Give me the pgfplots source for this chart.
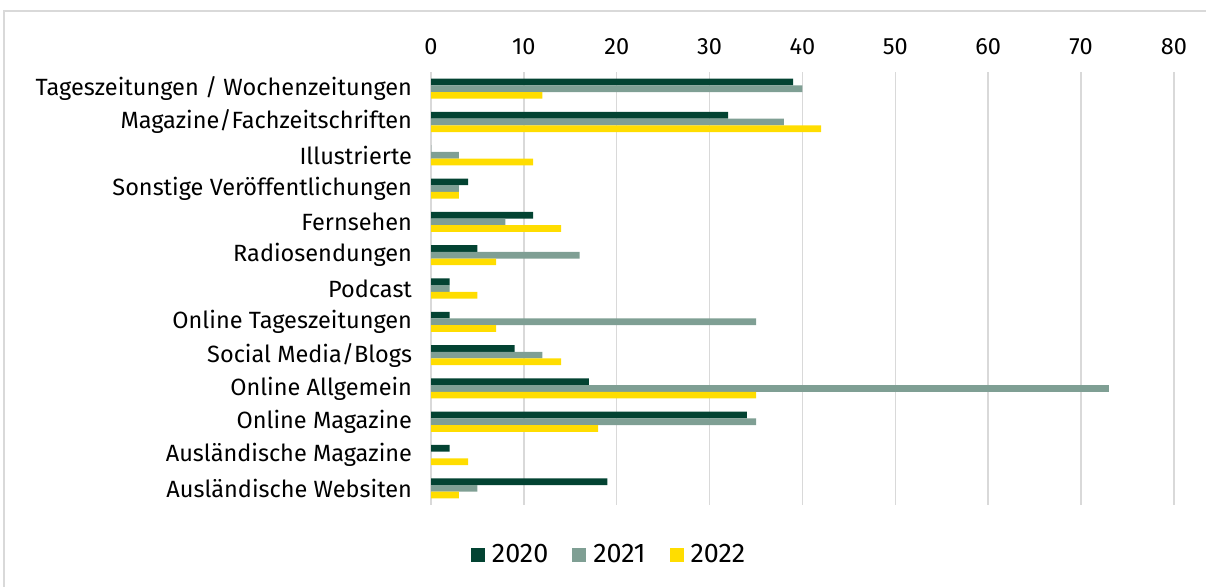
\documentclass[border=0pt]{standalone}
\usepackage{pgfplots}
\pgfplotsset{compat=1.18}
\usepackage{fontspec}
\setmainfont{Fira Sans}
\definecolor{c20}{HTML}{034332}
\definecolor{c21}{HTML}{7F9F94}
\definecolor{c22}{HTML}{FFDD00}
\definecolor{gridc}{HTML}{D9D9D9}
\begin{document}
\begin{tikzpicture}[font=\fontsize{11.8}{13}\selectfont]
\useasboundingbox (0,0) rectangle (603bp,293.5bp);
\draw[gridc, line width=0.6bp] (2bp,-2bp) -- (2bp,288bp) -- (606bp,288bp);
\begin{axis}[
    at={(215.5bp,41bp)}, anchor=south west,
    scale only axis,
    width=371.5bp, height=216.5bp,
    xbar, bar width=3.35bp,
    xmin=0, xmax=80,
    ymin=-0.5, ymax=12.5,
    y dir=reverse,
    xtick={0,10,...,80},
    xticklabel pos=upper,
    xticklabel style={yshift=5bp},
    ytick={0,...,12},
    yticklabels={Tageszeitungen / Wochenzeitungen, Magazine/Fachzeitschriften, Illustrierte, Sonstige Veröffentlichungen, Fernsehen, Radiosendungen, Podcast, Online Tageszeitungen, Social Media/Blogs, Online Allgemein, Online Magazine, Ausländische Magazine, Ausländische Websiten},
    yticklabel style={xshift=-6bp},
    major tick length=0pt,
    axis line style={draw=none},
    xmajorgrids,
    grid style={gridc, line width=0.75bp},
    /pgf/number format/assume math mode=true,
    legend style={at={(0.241,-0.115)}, anchor=center, draw=none, fill=none,
        font=\fontsize{13.5}{15}\selectfont,
        legend columns=3, column sep=1.5bp,
        /tikz/every even column/.append style={column sep=10bp}},
    legend image code/.code={\fill[#1] (0bp,-3.5bp) rectangle (7bp,3.5bp);},
]
\addplot[draw=none, fill=c20, bar shift=3.35bp] coordinates {
(39,0) (32,1) (0,2) (4,3) (11,4) (5,5) (2,6) (2,7) (9,8) (17,9) (34,10) (2,11) (19,12)};
\addplot[draw=none, fill=c21, bar shift=0bp] coordinates {
(40,0) (38,1) (3,2) (3,3) (8,4) (16,5) (2,6) (35,7) (12,8) (73,9) (35,10) (0,11) (5,12)};
\addplot[draw=none, fill=c22, bar shift=-3.35bp] coordinates {
(12,0) (42,1) (11,2) (3,3) (14,4) (7,5) (5,6) (7,7) (14,8) (35,9) (18,10) (4,11) (3,12)};
\legend{2020,2021,2022}
\end{axis}
\end{tikzpicture}
\end{document}
